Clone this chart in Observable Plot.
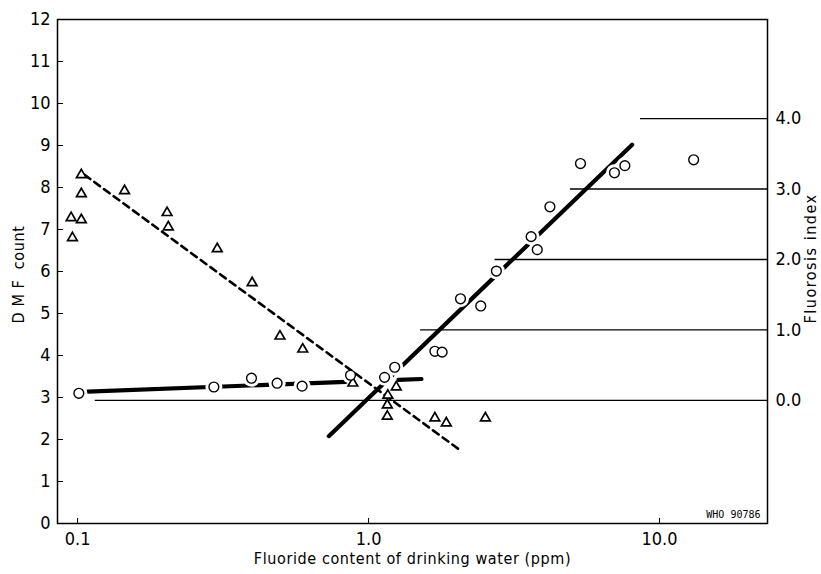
<!DOCTYPE html>
<html>
<head>
<meta charset="utf-8">
<script src="https://cdn.jsdelivr.net/npm/d3@7"></script>
<script src="https://cdn.jsdelivr.net/npm/@observablehq/plot@0.6"></script>
<style>
  html, body { margin: 0; padding: 0; background: white; }
</style>
</head>
<body>
<div id="chart"></div>
<script>
// ---- data ----
const triX = [0.103, 0.103, 0.095, 0.103, 0.096, 0.145, 0.203, 0.205, 0.302, 0.398, 0.496, 0.594, 0.883, 1.245, 1.165, 1.16, 1.16, 1.69, 1.85, 2.52];
const triY = [8.30, 7.85, 7.28, 7.23, 6.80, 7.92, 7.40, 7.06, 6.54, 5.73, 4.46, 4.15, 3.34, 3.25, 3.05, 2.82, 2.55, 2.51, 2.39, 2.51];

const circX = [0.101, 0.294, 0.396, 0.485, 0.591, 0.867, 1.135, 1.23, 1.69, 1.79, 2.07, 2.43, 2.75, 3.62, 3.80, 4.20, 5.35, 7.0, 7.6, 13.1];
const circY = [3.10, 3.25, 3.46, 3.34, 3.27, 3.53, 3.48, 3.72, 4.10, 4.08, 5.35, 5.18, 6.01, 6.83, 6.52, 7.54, 8.57, 8.35, 8.52, 8.66];

// regression lines (endpoints)
const dashX = [0.1057, 2.04];
const dashY = [8.30, 1.77];
const lowSeg = ["a", "a", "b", "b"];
const lowX = [0.1082, 0.834, 1.268, 1.52];
const lowY = [3.14, 3.372, 3.419, 3.44];
const steepX = [0.73, 8.05];
const steepY = [2.08, 9.02];

// fluorosis index reference lines
const fluoroIndex = [0, 1, 2, 3, 4];
const fluoroStart = [0.115, 1.51, 2.72, 4.94, 8.6];

// axes
const dmfTicks = [0,1,2,3,4,5,6,7,8,9,10,11,12];
const xTicks = [0.1, 1, 10];
const xDomain = [0.0853, 23.5];
const yDomain = [0, 12];
const idxToDMF = i => 2.93 + 1.678 * i;
const dmfToIdx = d => (d - 2.93) / 1.678;

// ---- build ----
const tri = triX.map((x, i) => ({x, y: triY[i]}));
const circ = circX.map((x, i) => ({x, y: circY[i]}));
const dash = dashX.map((x, i) => ({x, y: dashY[i]}));
const low = lowX.map((x, i) => ({x, y: lowY[i], s: lowSeg[i]}));
const steep = steepX.map((x, i) => ({x, y: steepY[i]}));
const fluoro = fluoroIndex.map((k, i) => ({y: idxToDMF(k), x1: fluoroStart[i]}));

const W = 821, H = 574, mL = 57, mR = 54, mT = 19, mB = 51;
const innerW = W - mL - mR, innerH = H - mT - mB;
const font = "'Liberation Sans Narrow', 'DejaVu Sans Condensed', 'Roboto Condensed', 'Liberation Sans', sans-serif";

const plot = Plot.plot({
  width: W, height: H,
  marginLeft: mL, marginRight: mR, marginTop: mT, marginBottom: mB,
  x: {type: "log", domain: xDomain},
  y: {domain: yDomain},
  style: {fontFamily: font, fontSize: "18px", background: "white", color: "black"},
  marks: [
    // thick regression lines
    Plot.line(low, {x: "x", y: "y", z: "s", stroke: "black", strokeWidth: 4.2}),
    Plot.line(steep, {x: "x", y: "y", stroke: "black", strokeWidth: 4.2}),
    // white halos around circles (gaps in the thick lines)
    Plot.dot(circ, {x: "x", y: "y", r: 8.5, fill: "white", stroke: null}),
    // fluorosis reference lines
    Plot.ruleY(fluoro, {y: "y", x1: "x1", x2: xDomain[1], stroke: "black", strokeWidth: 1.3}),
    // dashed regression
    Plot.line(dash, {x: "x", y: "y", stroke: "black", strokeWidth: 2.6, strokeDasharray: "7,5"}),
    // markers
    Plot.dot(tri, {x: "x", y: "y", symbol: "triangle", r: 3.6, stroke: "black", strokeWidth: 1.7, fill: "white"}),
    Plot.dot(circ, {x: "x", y: "y", r: 4.9, stroke: "black", strokeWidth: 1.4, fill: "white"}),
    // inward ticks
    Plot.tickY(dmfTicks, {y: d => d, insetRight: innerW - 6, stroke: "black", strokeWidth: 1}),
    Plot.tickX(xTicks, {x: d => d, insetTop: innerH - 5, stroke: "black", strokeWidth: 1}),
    // axes labels
    Plot.axisY({anchor: "left", ticks: dmfTicks, tickSize: 0, tickPadding: 7, tickFormat: d => String(d), label: null, fontSize: 18}),
    Plot.axisY({anchor: "right", ticks: fluoroIndex.map(idxToDMF), tickSize: 0, tickPadding: 8, tickFormat: d => dmfToIdx(d).toFixed(1), label: null, fontSize: 18}),
    Plot.axisX({ticks: xTicks, tickSize: 0, tickPadding: 9, tickFormat: d3.format(".1f"), label: null, fontSize: 18}),
    // titles
    Plot.text(["D M F  count"], {text: d => d, frameAnchor: "left", textAnchor: "middle", dx: -39, dy: 3, rotate: -90, fontSize: 16}),
    Plot.text(["Fluorosis index"], {text: d => d, frameAnchor: "right", textAnchor: "middle", dx: 43, dy: -13, rotate: -90, fontSize: 16}),
    Plot.text(["Fluoride content of drinking water (ppm)"], {text: d => d, frameAnchor: "bottom", textAnchor: "middle", dy: 40, dx: 0, fontSize: 16}),
    Plot.text(["WHO 90786"], {text: d => d, frameAnchor: "bottom-right", textAnchor: "end", dx: -7, dy: -6, fontSize: 10, fontFamily: "'DejaVu Sans Mono', monospace"}),
    Plot.frame({stroke: "black", strokeWidth: 1.5})
  ]
});
// letter spacing for the axis titles (typographic only)
d3.select(plot).selectAll("text").each(function() {
  const t = this.textContent;
  if (t === "Fluorosis index") this.style.letterSpacing = "1.5px";
  if (t === "Fluoride content of drinking water (ppm)") this.style.letterSpacing = "0.6px";
  if (t === "D M F  count") this.style.letterSpacing = "0.6px";
});
document.getElementById("chart").appendChild(plot);
</script>
</body>
</html>
